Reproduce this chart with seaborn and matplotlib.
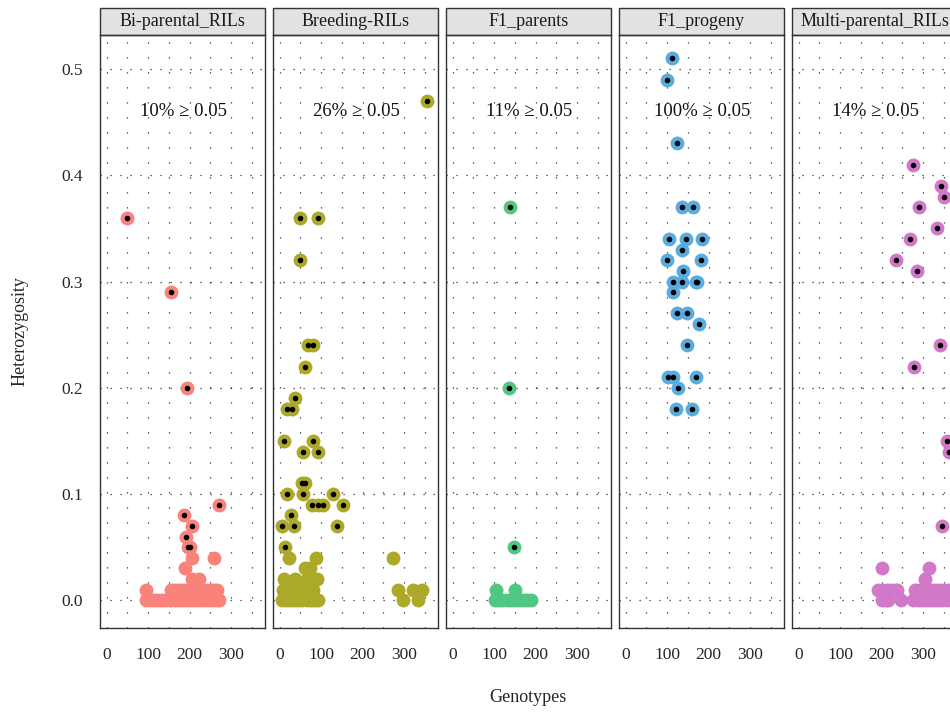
import numpy as np
import pandas as pd
import matplotlib
matplotlib.use('Agg')
import matplotlib.pyplot as plt
import seaborn as sns
from matplotlib.patches import Rectangle

# Panels (facets) and their colours
groups = ['Bi-parental_RILs', 'Breeding-RILs', 'F1_parents', 'F1_progeny', 'Multi-parental_RILs']
colors = ['#F9827A', '#ACA828', '#50C882', '#5AACDE', '#D278C8']
pct_labels = ['10%', '26%', '11%', '100%', '14%']
threshold = 0.05

# (genotype index, heterozygosity)
bi_pts = [
    (49, .36), (155, .29), (194, .20), (270, .09), (187, .08), (205, .07), (192, .06), (196, .05), (202, .05),
    (207, .04), (260, .04), (189, .03), (205, .02), (223, .02),
    (94, .01), (155, .01), (163, .01), (171, .01), (179, .01), (187, .01), (195, .01), (203, .01),
    (211, .01), (219, .01), (227, .01), (235, .01), (243, .01), (251, .01), (259, .01), (267, .01),
    (94, 0), (104, 0), (114, 0), (124, 0), (134, 0), (144, 0), (154, 0), (164, 0), (174, 0), (184, 0),
    (194, 0), (204, 0), (214, 0), (224, 0), (234, 0), (244, 0), (254, 0), (264, 0), (270, 0),
]
br_pts = [
    (356, .47), (49, .36), (92, .36), (49, .32), (69, .24), (80, .24), (61, .22), (37, .19), (18, .18), (31, .18),
    (10, .15), (80, .15), (56, .14), (92, .14), (54, .11), (61, .11), (18, .10), (56, .10), (129, .10),
    (77, .09), (92, .09), (105, .09), (152, .09), (27, .08), (5, .07), (35, .07), (139, .07), (14, .05),
    (22, .04), (88, .04), (274, .04), (73, .03), (60, .03), (11, .02), (37, .02), (65, .02), (80, .02), (90, .02),
    (8, .01), (18, .01), (28, .01), (38, .01), (48, .01), (58, .01), (68, .01), (80, .01),
    (286, .01), (321, .01), (343, .01),
    (5, 0), (15, 0), (25, 0), (35, 0), (45, 0), (55, 0), (65, 0), (75, 0), (85, 0), (92, 0), (298, 0), (333, 0),
]
f1p_pts = [
    (138, .37), (136, .20), (148, .05), (105, .01), (151, .01),
    (102, 0), (110, 0), (120, 0), (130, 0), (140, 0), (150, 0), (160, 0), (170, 0), (180, 0), (188, 0),
]
f1g_pts = [
    (111, .51), (100, .49), (125, .43), (136, .37), (162, .37), (104, .34), (146, .34), (184, .34),
    (136, .33), (100, .32), (181, .32), (138, .31), (115, .30), (135, .30), (170, .30), (173, .30),
    (114, .29), (124, .27), (149, .27), (178, .26), (149, .24), (101, .21), (114, .21), (170, .21),
    (126, .20), (121, .18), (159, .18),
]
mp_pts = [
    (277, .41), (344, .39), (350, .38), (291, .37), (333, .35), (268, .34), (235, .32), (285, .31),
    (342, .24), (278, .22), (357, .15), (363, .14), (347, .07),
    (200, .03), (315, .03), (305, .02),
    (192, .01), (202, .01), (212, .01), (222, .01), (232, .01), (237, .01), (281, .01), (291, .01),
    (301, .01), (311, .01), (321, .01), (331, .01), (341, .01), (351, .01), (361, .01), (371, .01),
    (381, .01), (391, .01),
    (200, 0), (210, 0), (215, 0), (247, 0), (277, 0), (287, 0), (297, 0), (307, 0), (317, 0), (327, 0),
    (337, 0), (347, 0), (357, 0), (367, 0), (377, 0), (387, 0),
]

frames = []
for g, pts in zip(groups, [bi_pts, br_pts, f1p_pts, f1g_pts, mp_pts]):
    df = pd.DataFrame(pts, columns=['Genotypes', 'Heterozygosity'])
    df['group'] = g
    frames.append(df)
data = pd.concat(frames, ignore_index=True)
data['high'] = data['Heterozygosity'] >= threshold - 1e-9

sns.set_style('white')
plt.rcParams['font.family'] = ['Liberation Serif', 'DejaVu Serif']

W, H = 950, 712
fig = plt.figure(figsize=(W / 100, H / 100), dpi=100)
dot_ls = (0, (1, 11))

for i, g in enumerate(groups):
    left = 100 + 173 * i
    ax = fig.add_axes([left / W, 1 - 628 / H, 165 / W, 593 / H])
    sub = data[data['group'] == g]
    sns.scatterplot(data=sub, x='Genotypes', y='Heterozygosity', color=colors[i],
                    s=100, linewidth=0, ax=ax, zorder=3)
    sns.scatterplot(data=sub[sub['high']], x='Genotypes', y='Heterozygosity', color='black',
                    s=16, linewidth=0, ax=ax, zorder=4)
    ax.set_xlim(-16, 382)
    ax.set_ylim(-0.026, 0.532)
    ax.set_xticks([0, 100, 200, 300])
    ax.set_xticks([50, 150, 250, 350], minor=True)
    ax.set_yticks([0, 0.1, 0.2, 0.3, 0.4, 0.5])
    ax.set_yticklabels(['0.0', '0.1', '0.2', '0.3', '0.4', '0.5'])
    ax.set_axisbelow(True)
    ax.grid(which='both', axis='x', color='#333333', linestyle=dot_ls, linewidth=0.9)
    ax.grid(which='major', axis='y', color='#333333', linestyle=(0, (1, 7)), linewidth=0.9)
    ax.set_xlabel('')
    ax.set_ylabel('')
    ax.tick_params(axis='x', which='major', direction='out', length=4, width=0.8,
                   color='#333333', labelsize=12.5, pad=10)
    ax.tick_params(axis='y', which='major', direction='out', length=4, width=0.8,
                   color='#333333', labelsize=12.5, pad=8)
    ax.tick_params(which='minor', length=0)
    if i > 0:
        ax.tick_params(axis='y', left=False, labelleft=False)
    for sp in ax.spines.values():
        sp.set_color('#333333')
        sp.set_linewidth(1.0)

    # facet strip
    sh = 27 / 593
    ax.add_patch(Rectangle((0, 1), 1, sh, transform=ax.transAxes, clip_on=False,
                           facecolor='#E2E2E2', edgecolor='#333333', linewidth=1.0))
    ax.text(0.5, 1 + sh / 2, g, transform=ax.transAxes, ha='center', va='center',
            fontsize=13, color='#1a1a1a')
    ax.text(185, 0.46, f'{pct_labels[i]} \u2265 0.05', ha='center', va='center',
            fontsize=13.5, color='#111111', zorder=5)

fig.text(528 / W, 1 - 697 / H, 'Genotypes', ha='center', va='center', fontsize=13)
fig.text(20 / W, 1 - 331 / H, 'Heterozygosity', ha='center', va='center', rotation=90, fontsize=13)

fig.savefig('out.png', dpi=100)
